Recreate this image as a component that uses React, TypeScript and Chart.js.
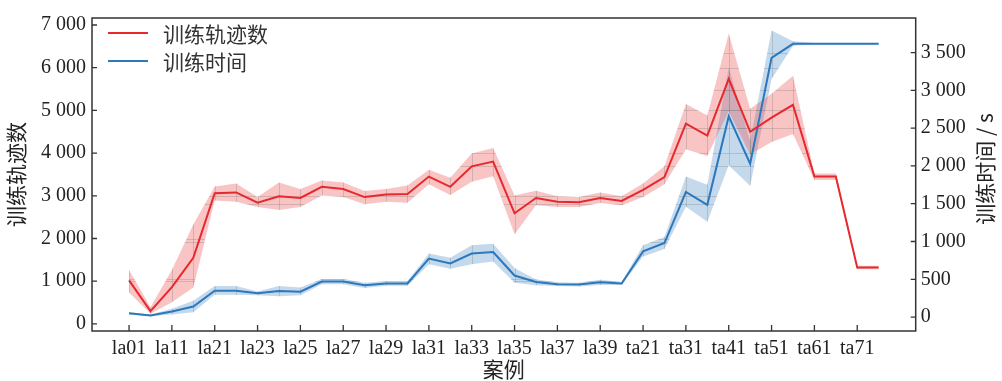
import React, { useEffect, useRef } from 'react';
import { Chart, registerables } from 'chart.js';

Chart.register(...registerables);

// ---- data ----
const cases = [
  'la01', 'la06', 'la11', 'la16', 'la21', 'la22', 'la23', 'la24', 'la25', 'la26',
  'la27', 'la28', 'la29', 'la30', 'la31', 'la32', 'la33', 'la34', 'la35', 'la36',
  'la37', 'la38', 'la39', 'la40', 'ta21', 'ta26', 'ta31', 'ta36', 'ta41', 'ta46',
  'ta51', 'ta56', 'ta61', 'ta66', 'ta71', 'ta76',
];
const tickLabels = [
  'la01', 'la11', 'la21', 'la23', 'la25', 'la27', 'la29', 'la31', 'la33',
  'la35', 'la37', 'la39', 'ta21', 'ta31', 'ta41', 'ta51', 'ta61', 'ta71',
];

// 训练轨迹数 (left axis)
const trajMean = [
  1020, 300, 860, 1550, 3060, 3080, 2840, 2990, 2950, 3210,
  3160, 2970, 3030, 3040, 3450, 3210, 3690, 3800, 2590, 2950,
  2860, 2850, 2950, 2880, 3140, 3440, 4690, 4410, 5740, 4500,
  4830, 5130, 3450, 3450, 1320, 1320,
];
const trajUpper = [
  1265, 390, 1265, 2330, 3220, 3290, 2970, 3310, 3160, 3360,
  3310, 3110, 3160, 3240, 3610, 3420, 3990, 4120, 3010, 3120,
  2990, 2970, 3080, 2990, 3290, 3690, 5150, 4880, 6800, 5040,
  5390, 5810, 3520, 3520, 1360, 1360,
];
const trajLower = [
  735, 240, 510, 850, 2890, 2860, 2740, 2670, 2740, 3010,
  2970, 2800, 2860, 2840, 3270, 3020, 3330, 3460, 2100, 2780,
  2740, 2740, 2830, 2780, 2970, 3270, 4090, 3930, 4980, 3970,
  4260, 4450, 3370, 3370, 1280, 1280,
];

// 训练时间 / s (right axis)
const timeMean = [
  50, 20, 75, 140, 350, 350, 315, 345, 335, 470,
  470, 420, 445, 445, 775, 710, 840, 860, 550, 465,
  435, 430, 460, 445, 870, 980, 1655, 1485, 2655, 2030,
  3430, 3615, 3615, 3615, 3615, 3615,
];
const timeUpper = [
  65, 35, 110, 215, 410, 410, 340, 410, 390, 505,
  505, 455, 475, 475, 842, 786, 950, 970, 650, 497,
  460, 455, 495, 465, 950, 1060, 1860, 1750, 3300, 2330,
  3790, 3650, 3625, 3625, 3625, 3625,
];
const timeLower = [
  35, 10, 35, 65, 295, 295, 290, 275, 290, 435,
  435, 385, 415, 415, 700, 640, 700, 735, 455, 420,
  410, 405, 425, 425, 800, 900, 1460, 1260, 2010, 1735,
  3150, 3590, 3605, 3605, 3605, 3605,
];

const leftTicks = [0, 1000, 2000, 3000, 4000, 5000, 6000, 7000];
const rightTicks = [0, 500, 1000, 1500, 2000, 2500, 3000, 3500];

const seriesNames = ['训练轨迹数', '训练时间'];
const axisTitles = { x: '案例', left: '训练轨迹数', right: '训练时间 / s' };

// ---- style ----
const W = 1002;
const H = 381;
const RED = 'rgb(232,40,44)';
const RED_FILL = 'rgba(236,70,70,0.32)';
const BLUE = 'rgb(44,120,188)';
const BLUE_FILL = 'rgba(44,120,188,0.28)';
const TEXT = '#222';
const FRAME = '#333';
const SERIF = "'Liberation Serif', 'Times New Roman', serif";
const CJK = "'Noto Sans CJK SC', 'Noto Sans', sans-serif";

const fmt = (v: number) => {
  if (v >= 1000) {
    return `${Math.floor(v / 1000)} ${String(v % 1000).padStart(3, '0')}`;
  }
  return `${v}`;
};

const pts = (arr: number[]) => arr.map((y, i) => ({ x: i, y }));

const decor = {
  id: 'decor',
  beforeDatasetsDraw(chart: any) {
    const { ctx, chartArea, scales } = chart;
    const xs = scales.x;
    const bands = [
      { up: trajUpper, lo: trajLower, ys: scales.y },
      { up: timeUpper, lo: timeLower, ys: scales.y1 },
    ];
    bands.forEach((b) => {
      ctx.save();
      ctx.beginPath();
      b.up.forEach((v, i) => {
        const px = xs.getPixelForValue(i);
        const py = b.ys.getPixelForValue(v);
        if (i === 0) ctx.moveTo(px, py);
        else ctx.lineTo(px, py);
      });
      for (let i = b.lo.length - 1; i >= 0; i--) {
        ctx.lineTo(xs.getPixelForValue(i), b.ys.getPixelForValue(b.lo[i]));
      }
      ctx.closePath();
      ctx.clip();
      ctx.strokeStyle = 'rgba(120,120,120,0.28)';
      ctx.lineWidth = 1;
      ctx.beginPath();
      cases.forEach((_, i) => {
        const px = Math.round(xs.getPixelForValue(i)) + 0.5;
        ctx.moveTo(px, chartArea.top);
        ctx.lineTo(px, chartArea.bottom);
      });
      leftTicks.forEach((v) => {
        const py = Math.round(scales.y.getPixelForValue(v)) + 0.5;
        ctx.moveTo(chartArea.left, py);
        ctx.lineTo(chartArea.right, py);
      });
      rightTicks.forEach((v) => {
        const py = Math.round(scales.y1.getPixelForValue(v)) + 0.5;
        ctx.moveTo(chartArea.left, py);
        ctx.lineTo(chartArea.right, py);
      });
      ctx.stroke();
      ctx.restore();
    });
  },
  afterDraw(chart: any) {
    const { ctx, chartArea, scales } = chart;
    const { left, right, top, bottom } = chartArea;
    ctx.save();
    // frame
    ctx.strokeStyle = FRAME;
    ctx.lineWidth = 1.5;
    ctx.strokeRect(left, top, right - left, bottom - top);
    // tick marks (all pointing inwards)
    ctx.lineWidth = 1.3;
    ctx.beginPath();
    tickLabels.forEach((l) => {
      const px = scales.x.getPixelForValue(cases.indexOf(l));
      ctx.moveTo(px, bottom);
      ctx.lineTo(px, bottom - 6);
    });
    leftTicks.forEach((v) => {
      const py = scales.y.getPixelForValue(v);
      ctx.moveTo(left, py);
      ctx.lineTo(left + 5, py);
    });
    rightTicks.forEach((v) => {
      const py = scales.y1.getPixelForValue(v);
      ctx.moveTo(right, py);
      ctx.lineTo(right - 5, py);
    });
    ctx.stroke();

    // legend
    const legend = [
      { name: seriesNames[0], color: RED, y: 33 },
      { name: seriesNames[1], color: BLUE, y: 61 },
    ];
    legend.forEach((it) => {
      ctx.strokeStyle = it.color;
      ctx.lineWidth = 2;
      ctx.beginPath();
      ctx.moveTo(left + 16, it.y);
      ctx.lineTo(left + 56, it.y);
      ctx.stroke();
      ctx.fillStyle = '#333';
      ctx.font = `21px ${CJK}`;
      ctx.textAlign = 'left';
      ctx.textBaseline = 'middle';
      ctx.fillText(it.name, left + 71, it.y + 1);
    });

    // axis titles
    ctx.fillStyle = TEXT;
    ctx.font = `21px ${CJK}`;
    ctx.textAlign = 'center';
    ctx.textBaseline = 'middle';
    ctx.fillText(axisTitles.x, (left + right) / 2, 369);

    ctx.save();
    ctx.translate(16, (top + bottom) / 2);
    ctx.rotate(-Math.PI / 2);
    ctx.fillText(axisTitles.left, 0, 0);
    ctx.restore();

    ctx.save();
    ctx.translate(985, 169);
    ctx.rotate(-Math.PI / 2);
    ctx.fillText(axisTitles.right, 0, 0);
    ctx.restore();

    ctx.restore();
  },
};

// axis ranges to match the frame
const PLOT_LEFT = 92;
const PLOT_RIGHT = 915.7;
const PLOT_TOP = 9.5;
const PLOT_BOTTOM = 331;
const X_MIN = -1.73;
const X_MAX = 36.73;
const Y_MIN = -166;
const Y_MAX = 7164;
const Y1_MIN = -184;
const Y1_MAX = 3957;

export default function App() {
  const ref = useRef<HTMLCanvasElement | null>(null);

  useEffect(() => {
    if (!ref.current) return;
    const tickFont = { family: SERIF, size: 20 };
    const chart = new Chart(ref.current, {
      type: 'line',
      data: {
        datasets: [
          {
            label: seriesNames[0],
            data: pts(trajMean),
            borderColor: RED,
            borderWidth: 2,
            pointRadius: 0,
            fill: false,
            yAxisID: 'y',
            tension: 0,
          },
          {
            label: seriesNames[1],
            data: pts(timeMean),
            borderColor: BLUE,
            borderWidth: 2,
            pointRadius: 0,
            fill: false,
            yAxisID: 'y1',
            tension: 0,
          },
          {
            label: 'trajUpper',
            data: pts(trajUpper),
            borderColor: 'rgba(0,0,0,0)',
            borderWidth: 0,
            pointRadius: 0,
            backgroundColor: RED_FILL,
            fill: '+1',
            yAxisID: 'y',
          },
          {
            label: 'trajLower',
            data: pts(trajLower),
            borderColor: 'rgba(0,0,0,0)',
            borderWidth: 0,
            pointRadius: 0,
            fill: false,
            yAxisID: 'y',
          },
          {
            label: 'timeUpper',
            data: pts(timeUpper),
            borderColor: 'rgba(0,0,0,0)',
            borderWidth: 0,
            pointRadius: 0,
            backgroundColor: BLUE_FILL,
            fill: '+1',
            yAxisID: 'y1',
          },
          {
            label: 'timeLower',
            data: pts(timeLower),
            borderColor: 'rgba(0,0,0,0)',
            borderWidth: 0,
            pointRadius: 0,
            fill: false,
            yAxisID: 'y1',
          },
        ],
      },
      options: {
        responsive: false,
        animation: false,
        devicePixelRatio: 1,
        layout: { padding: { top: PLOT_TOP, left: 0, right: 0, bottom: 0 } },
        plugins: {
          legend: { display: false },
          tooltip: { enabled: false },
          filler: { drawTime: 'beforeDatasetsDraw' },
        },
        scales: {
          x: {
            type: 'linear',
            min: X_MIN,
            max: X_MAX,
            grid: { display: false, drawTicks: false },
            border: { display: false },
            afterBuildTicks: (s: any) => {
              s.ticks = tickLabels.map((l) => ({ value: cases.indexOf(l) }));
            },
            afterFit: (s: any) => {
              s.height = H - PLOT_BOTTOM;
            },
            ticks: {
              autoSkip: false,
              maxRotation: 0,
              padding: 6,
              color: TEXT,
              font: tickFont,
              callback: (v: any) => cases[Math.round(Number(v))] ?? '',
            },
          },
          y: {
            type: 'linear',
            position: 'left',
            min: Y_MIN,
            max: Y_MAX,
            grid: { display: false, drawTicks: false },
            border: { display: false },
            afterBuildTicks: (s: any) => {
              s.ticks = leftTicks.map((v) => ({ value: v }));
            },
            afterFit: (s: any) => {
              s.width = PLOT_LEFT;
            },
            ticks: {
              padding: 6,
              color: TEXT,
              font: tickFont,
              callback: (v: any) => fmt(Number(v)),
            },
          },
          y1: {
            type: 'linear',
            position: 'right',
            min: Y1_MIN,
            max: Y1_MAX,
            grid: { display: false, drawTicks: false },
            border: { display: false },
            afterBuildTicks: (s: any) => {
              s.ticks = rightTicks.map((v) => ({ value: v }));
            },
            afterFit: (s: any) => {
              s.width = W - PLOT_RIGHT;
            },
            ticks: {
              padding: 5,
              color: TEXT,
              font: tickFont,
              callback: (v: any) => fmt(Number(v)),
            },
          },
        },
      },
      plugins: [decor],
    } as any);
    return () => chart.destroy();
  }, []);

  return (
    <div style={{ position: 'absolute', left: 0, top: 0, width: W, height: H, background: '#fff' }}>
      <canvas ref={ref} width={W} height={H} style={{ display: 'block', width: W, height: H }} />
    </div>
  );
}
